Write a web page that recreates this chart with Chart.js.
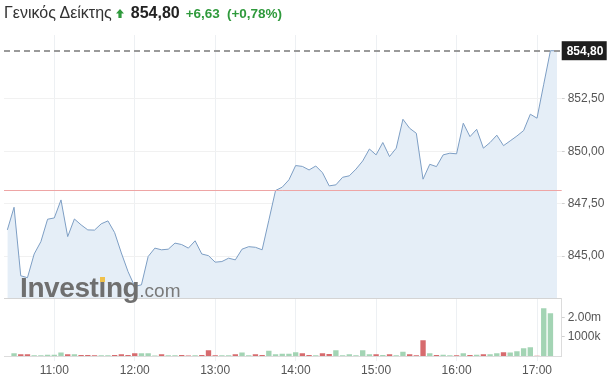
<!DOCTYPE html>
<html><head><meta charset="utf-8">
<script src="https://cdn.jsdelivr.net/npm/chart.js@4/dist/chart.umd.min.js"></script>
<style>
html,body{margin:0;padding:0;background:#fff;width:613px;height:378px;overflow:hidden;font-family:'Liberation Sans',Arial,sans-serif;}
#wrap{position:relative;width:613px;height:378px;}
#c{position:absolute;left:0;top:0;}
#hdr{position:absolute;left:4px;top:3px;display:flex;align-items:baseline;white-space:nowrap;line-height:20px;}
#ttl{font-size:16px;color:#333;}
#arr{margin-left:4px;width:8px;height:9px;}
#val{font-size:16px;font-weight:bold;color:#222;margin-left:7px;}
#chg{font-size:13.5px;font-weight:bold;color:#2f9a3c;margin-left:6px;}
#pct{font-size:13.5px;font-weight:bold;color:#2f9a3c;margin-left:7px;}
#wm{position:absolute;left:20px;top:274px;line-height:28px;white-space:nowrap;pointer-events:none;}
#wm b{font-size:28px;font-weight:bold;color:#6f6f6f;letter-spacing:-0.4px;}
#wm span{font-size:19px;color:#7a7a7a;}
#dot{position:absolute;left:100px;top:277px;width:5px;height:5px;background:#f0c14b;pointer-events:none;}
</style></head>
<body>
<div id="wrap">
<canvas id="c" width="613" height="378"></canvas>
<div id="hdr"><span id="ttl">Γενικός Δείκτης</span><svg id="arr" viewBox="0 0 8 9"><polygon points="4,0 8,4.6 5.6,4.6 5.6,9 2.4,9 2.4,4.6 0,4.6" fill="#2f9a3c"/></svg><span id="val">854,80</span><span id="chg">+6,63</span><span id="pct">(+0,78%)</span></div>
<div id="wm"><b>Investing</b><span>.com</span></div>
<div id="dot"></div>
</div>
<script>
// ---- data ----
const times = ['10:25','10:30','10:35','10:40','10:45','10:50','10:55','11:00','11:05','11:10','11:15','11:20','11:25','11:30','11:35','11:40','11:45','11:50','11:55',
'12:00','12:05','12:10','12:15','12:20','12:25','12:30','12:35','12:40','12:45','12:50','12:55',
'13:00','13:05','13:10','13:15','13:20','13:25','13:30','13:35','13:40','13:45','13:50','13:55',
'14:00','14:05','14:10','14:15','14:20','14:25','14:30','14:35','14:40','14:45','14:50','14:55',
'15:00','15:05','15:10','15:15','15:20','15:25','15:30','15:35','15:40','15:45','15:50','15:55',
'16:00','16:05','16:10','16:15','16:20','16:25','16:30','16:35','16:40','16:45','16:50','16:55',
'17:00','17:05','17:10','17:15'];
const prices = [846.25,847.33,844.06,843.97,845.10,845.69,846.76,846.82,847.68,845.93,846.77,846.49,846.25,846.24,846.54,846.68,846.12,845.15,844.26,
843.55,843.63,844.98,845.38,845.30,845.33,845.62,845.55,845.38,845.73,845.10,845.02,
844.71,844.74,844.90,844.82,845.33,845.45,845.42,845.30,846.71,848.13,848.29,848.64,
849.32,849.28,849.11,849.30,848.98,848.35,848.40,848.76,848.83,849.15,849.54,850.11,
849.83,850.42,849.75,850.15,851.53,851.10,850.86,848.67,849.38,849.27,849.83,849.91,
849.88,851.34,850.70,851.05,850.15,850.42,850.77,850.27,850.50,850.73,850.99,851.77,
851.58,853.20,854.80,854.80];
const volumes = [null,120000,70000,70000,20000,20000,50000,50000,160000,70000,70000,40000,40000,20000,20000,20000,40000,70000,40000,
120000,120000,120000,10000,70000,20000,20000,30000,10000,20000,40000,280000,
20000,20000,20000,70000,160000,20000,70000,30000,260000,70000,100000,100000,
175000,120000,35000,20000,120000,90000,280000,20000,70000,20000,280000,70000,
70000,35000,70000,20000,210000,70000,20000,800000,120000,35000,50000,20000,
20000,120000,35000,50000,70000,70000,120000,175000,160000,230000,390000,440000,
0,2480000,2210000,null];
const prevClose = 848.17;
const lastPrice = 854.80;
const xTickTimes = ['11:00','12:00','13:00','14:00','15:00','16:00','17:00'];
const priceTicks = [845.0, 847.5, 850.0, 852.5];
const priceTickLabels = ['845,00','847,50','850,00','852,50'];
const volTicks = [1000000, 2000000];
const volTickLabels = ['1000k','2.00m'];

// ---- helpers ----
const toMin = s => { const [h,m] = s.split(':').map(Number); return h*60+m; };
const xs = times.map(toMin);
const fmtPrice = v => v.toFixed(2).replace('.', ',');
const GREEN = '#a3d4b4', RED = '#d76b6e';
const lineData = xs.map((x,i)=>({x, y:prices[i]}));
const barData = [], barColors = [];
xs.forEach((x,i)=>{ if(volumes[i]!==null){ barData.push({x, y:volumes[i]}); barColors.push(prices[i]>=prices[i-1]?GREEN:RED);} });

Chart.defaults.font.family = "'Liberation Sans', Arial, sans-serif";
const PMIN = 843.0, PMAX = 855.55;

const overlay = {
  id:'overlay',
  afterDatasetsDraw(chart){
    const {ctx, chartArea:a, scales:{y}} = chart;
    ctx.save();
    const yp = Math.round(y.getPixelForValue(prevClose))+0.5;
    ctx.strokeStyle = '#eea5a5'; ctx.lineWidth = 1;
    ctx.beginPath(); ctx.moveTo(a.left, yp); ctx.lineTo(a.right, yp); ctx.stroke();
    const yl = Math.round(y.getPixelForValue(lastPrice));
    ctx.strokeStyle = '#9a9a9a'; ctx.lineWidth = 2; ctx.setLineDash([6,4]);
    ctx.beginPath(); ctx.moveTo(a.left, yl); ctx.lineTo(a.right, yl); ctx.stroke();
    ctx.restore();
  },
  afterDraw(chart){
    const {ctx, chartArea:a, scales:{y}} = chart;
    const yl = y.getPixelForValue(lastPrice);
    ctx.save();
    ctx.fillStyle = '#1e1e1e';
    ctx.fillRect(a.right, yl-9.5, 45, 19);
    ctx.fillStyle = '#fff'; ctx.font = "bold 12px 'Liberation Sans', Arial";
    ctx.textBaseline = 'middle'; ctx.textAlign = 'left';
    ctx.fillText(fmtPrice(lastPrice), a.right+5, yl+0.5);
    ctx.restore();
  }
};

new Chart(document.getElementById('c'), {
  data: {
    datasets: [
      {type:'line', data: lineData, xAxisID:'x', yAxisID:'y', borderColor:'#7d9ec4', borderWidth:1,
       backgroundColor:'#e5eef7', fill:'start', pointRadius:0, tension:0},
      {type:'bar', data: barData, xAxisID:'x', yAxisID:'v', backgroundColor: barColors, borderWidth:0, barThickness:4.7}
    ]
  },
  options: {
    responsive:false, animation:false, devicePixelRatio:1,
    layout:{padding:{left:4, top:35, right:0, bottom:0}},
    plugins:{legend:{display:false}, tooltip:{enabled:false}},
    scales:{
      x:{type:'linear', min:622.5, max:1038.4, offset:false,
         afterBuildTicks: s => { s.ticks = xTickTimes.map(t=>({value:toMin(t)})); },
         ticks:{callback:(v)=>{ const i = xTickTimes.map(toMin).indexOf(v); return i>=0?xTickTimes[i]:''; },
                color:'#555', font:{size:12}, padding:2, maxRotation:0, autoSkip:false},
         grid:{color:'#edf0f3', tickLength:5, tickColor:'#edf0f3', offset:false},
         border:{color:'#dcdcdc'},
         afterFit: s => { s.height = 22; }},
      y:{position:'right', stack:'v', stackWeight:263, min:PMIN, max:PMAX,
         afterBuildTicks: s => { s.ticks = [{value:PMIN}].concat(priceTicks.map(v=>({value:v}))); },
         ticks:{callback:(v)=>{ const i = priceTicks.indexOf(v); return i>=0?priceTickLabels[i]:''; },
                color:'#555', font:{size:12}, padding:3},
         grid:{color: c => (c.tick && c.tick.value===PMIN) ? '#d4d4d4' : '#f1f1f1', tickLength:3,
               tickColor: c => (c.tick && c.tick.value===PMIN) ? 'rgba(0,0,0,0)' : '#cfcfcf'},
         border:{display:false},
         afterFit: s => { s.width = 51.3; }},
      v:{position:'right', stack:'v', stackWeight:58, min:0, max:3030000,
         afterBuildTicks: s => { s.ticks = volTicks.map(v=>({value:v})); },
         ticks:{callback:(v)=>{ const i = volTicks.indexOf(v); return i>=0?volTickLabels[i]:''; },
                color:'#555', font:{size:12}, padding:3},
         grid:{drawOnChartArea:false, tickLength:3, tickColor:'#cfcfcf'},
         border:{display:true, color:'#dcdcdc'},
         afterFit: s => { s.width = 51.3; }}
    }
  },
  plugins:[overlay]
});
</script>
</body></html>
